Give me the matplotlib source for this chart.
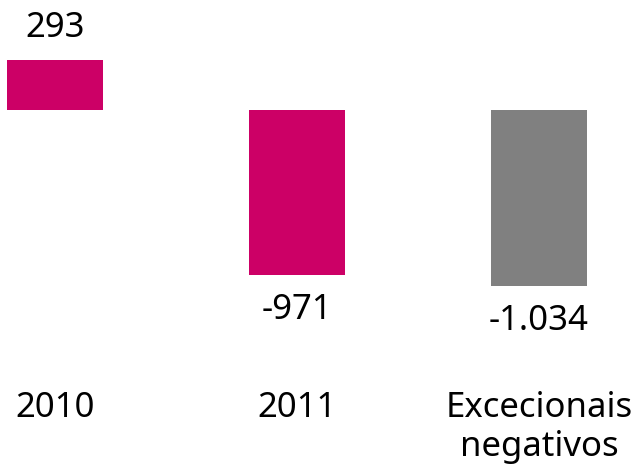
import matplotlib
matplotlib.use("Agg")
import matplotlib.pyplot as plt
from matplotlib import transforms

# dados
categorias = ["2010", "2011", "Excecionais\nnegativos"]
valores = [293, -971, -1034]
rotulos = ["293", "-971", "-1.034"]
cores = ["#CC0066", "#CC0066", "#808080"]

plt.rcParams["font.family"] = ["Noto Sans", "DejaVu Sans"]

fig = plt.figure(figsize=(6.38, 4.66), dpi=100)
ax = fig.add_axes([0, 0, 1, 1])
ax.axis("off")

x = range(len(valores))
ax.bar(x, valores, width=0.397, color=cores)
ax.set_xlim(-0.227, 2.409)
ax.set_ylim(-2092, 646)

fs = 25
for i, (v, r) in enumerate(zip(valores, rotulos)):
    if v >= 0:
        ax.annotate(r, (i, v), xytext=(0, 16.5), textcoords="offset points",
                    ha="center", va="baseline", fontsize=fs)
    else:
        ax.annotate(r, (i, v), xytext=(0, -31.5), textcoords="offset points",
                    ha="center", va="baseline", fontsize=fs)

# rótulos das categorias (alinhados pelo topo da primeira linha)
trans = transforms.blended_transform_factory(ax.transData, ax.transAxes)
for i, c in enumerate(categorias):
    ax.text(i, 0.162, c, transform=trans, ha="center", va="top",
            fontsize=fs, linespacing=1.2)

fig.savefig("out.png", dpi=100)
